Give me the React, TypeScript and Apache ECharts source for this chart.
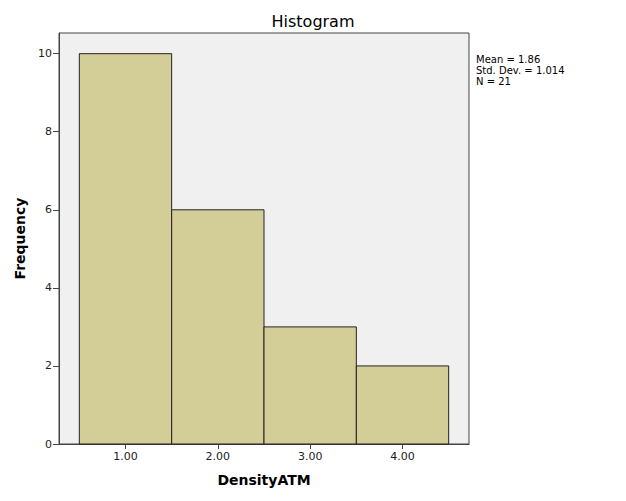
import React, { useEffect, useRef } from "react";
import * as echarts from "echarts";

const binCenters = [1, 2, 3, 4];
const frequencies = [10, 6, 3, 2];
const binWidth = 1;
const xTickValues = [1, 2, 3, 4];
const yTickValues = [0, 2, 4, 6, 8, 10];
const statsLines = ["Mean = 1.86", "Std. Dev. = 1.014", "N = 21"];

const FONT = "DejaVu Sans";

export default function App() {
  const ref = useRef<HTMLDivElement>(null);
  useEffect(() => {
    document.body.style.margin = "0";
    const chart = echarts.init(ref.current!, null, { renderer: "svg" });
    const data = binCenters.map((c, i) => [c, frequencies[i]]);
    chart.setOption({
      animation: false,
      backgroundColor: "#ffffff",
      title: {
        text: "Histogram",
        left: "center",
        top: 8,
        textStyle: { fontFamily: FONT, fontSize: 16, fontWeight: "normal", color: "#000" },
      },
      grid: {
        left: 59,
        right: 157,
        top: 33,
        bottom: 57,
        show: true,
        backgroundColor: "#f0f0f0",
        borderColor: "#444",
        borderWidth: 1,
      },
      xAxis: {
        type: "value",
        min: 0.28,
        max: 4.72,
        name: "DensityATM",
        nameLocation: "middle",
        nameGap: 29,
        nameTextStyle: { fontFamily: FONT, fontSize: 14, fontWeight: "bold", color: "#000" },
        axisLine: { show: true, lineStyle: { color: "#444", width: 1 } },
        axisTick: { show: true, length: 5, customValues: xTickValues, lineStyle: { color: "#444" } },
        axisLabel: {
          customValues: xTickValues,
          formatter: (v: number) => v.toFixed(2),
          fontFamily: FONT,
          fontSize: 11,
          color: "#222",
          margin: 7,
        },
        splitLine: { show: false },
      },
      yAxis: {
        type: "value",
        min: 0,
        max: 10.53,
        name: "Frequency",
        nameLocation: "middle",
        nameGap: 25,
        nameTextStyle: { fontFamily: FONT, fontSize: 14, fontWeight: "bold", color: "#000" },
        axisLine: { show: true, lineStyle: { color: "#444", width: 1 } },
        axisTick: { show: true, length: 6, customValues: yTickValues, lineStyle: { color: "#444" } },
        axisLabel: {
          customValues: yTickValues,
          fontFamily: FONT,
          fontSize: 11,
          color: "#222",
          margin: 7,
        },
        splitLine: { show: false },
      },
      series: [
        {
          type: "custom",
          data,
          renderItem: (params: any, api: any) => {
            const c = api.value(0);
            const f = api.value(1);
            const p0 = api.coord([c - binWidth / 2, 0]);
            const p1 = api.coord([c + binWidth / 2, f]);
            return {
              type: "rect",
              shape: { x: p0[0], y: p1[1], width: p1[0] - p0[0], height: p0[1] - p1[1] },
              style: { fill: "#d3ce97", stroke: "#222", lineWidth: 1 },
            };
          },
        },
      ],
      graphic: statsLines.map((line, i) => ({
        type: "text",
        left: 476,
        top: 54 + i * 11,
        style: {
          text: line,
          fontFamily: FONT,
          fontSize: 10,
          fill: "#000",
        },
      })),
    });
    return () => chart.dispose();
  }, []);
  return <div ref={ref} style={{ width: 626, height: 501, position: "absolute", left: 0, top: 0 }} />;
}
